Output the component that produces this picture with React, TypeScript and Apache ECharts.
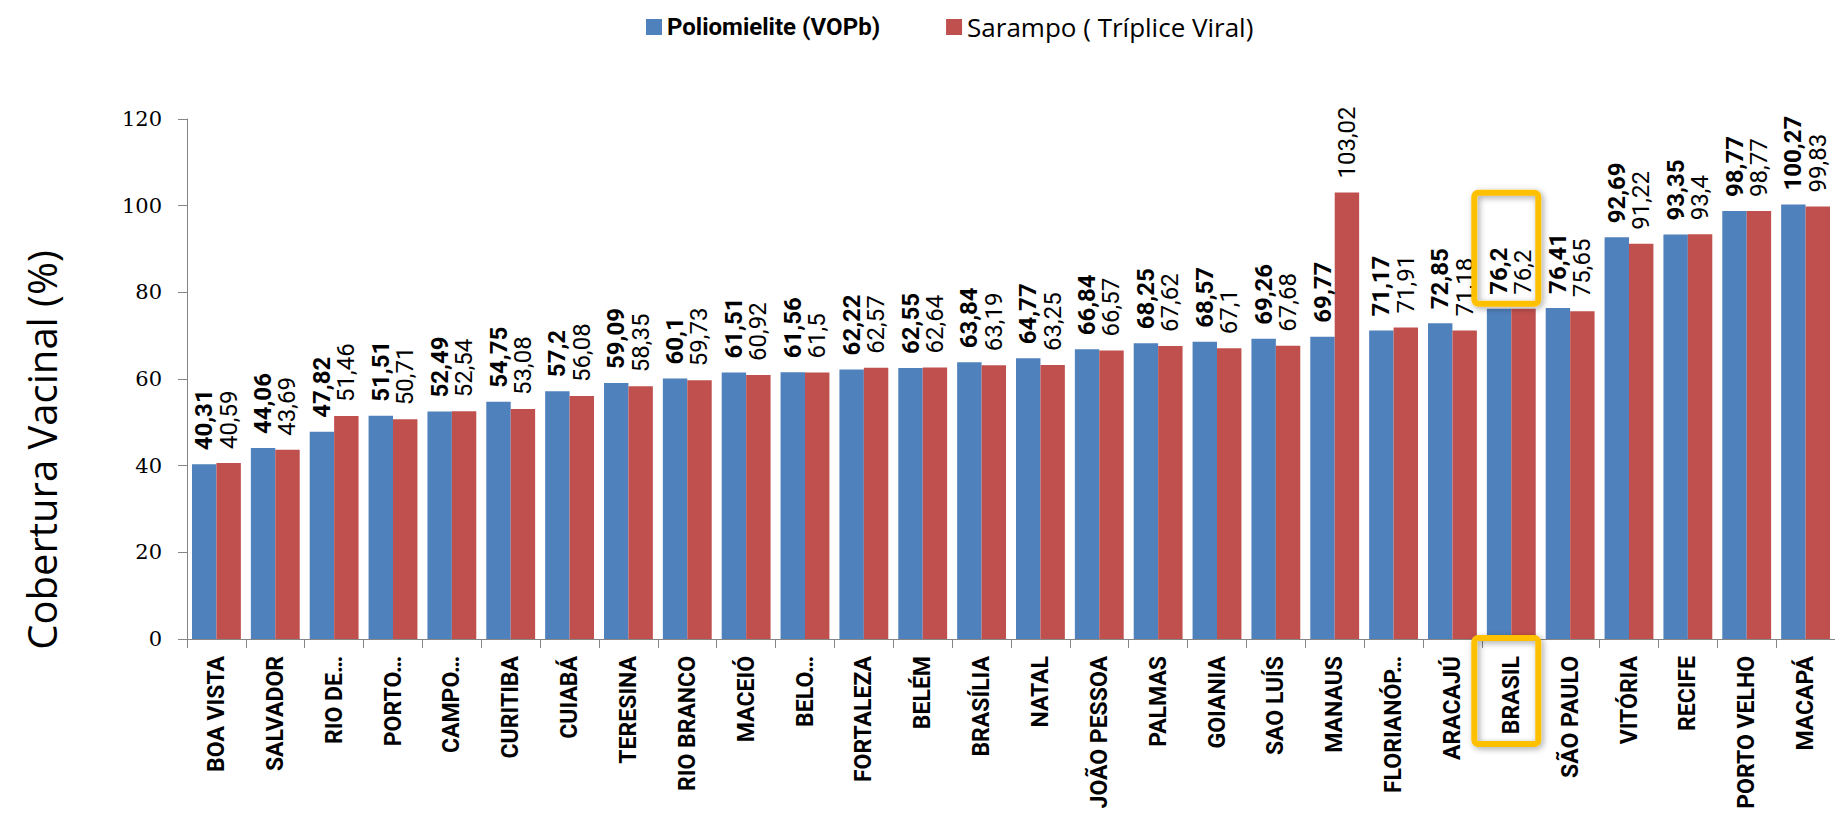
import React, { useEffect, useRef } from "react";
import * as echarts from "echarts";

const categories = [
  "BOA VISTA", "SALVADOR", "RIO DE…", "PORTO…", "CAMPO…", "CURITIBA", "CUIABÁ",
  "TERESINA", "RIO BRANCO", "MACEIÓ", "BELO…", "FORTALEZA", "BELÉM", "BRASÍLIA",
  "NATAL", "JOÃO PESSOA", "PALMAS", "GOIANIA", "SAO LUÍS", "MANAUS", "FLORIANÓP…",
  "ARACAJÚ", "BRASIL", "SÃO PAULO", "VITÓRIA", "RECIFE", "PORTO VELHO", "MACAPÁ",
];

const polio = [
  40.31, 44.06, 47.82, 51.51, 52.49, 54.75, 57.2, 59.09, 60.1, 61.51, 61.56, 62.22,
  62.55, 63.84, 64.77, 66.84, 68.25, 68.57, 69.26, 69.77, 71.17, 72.85, 76.2, 76.41,
  92.69, 93.35, 98.77, 100.27,
];

const sarampo = [
  40.59, 43.69, 51.46, 50.71, 52.54, 53.08, 56.08, 58.35, 59.73, 60.92, 61.5, 62.57,
  62.64, 63.19, 63.25, 66.57, 67.62, 67.1, 67.68, 103.02, 71.91, 71.18, 76.2, 75.65,
  91.22, 93.4, 98.77, 99.83,
];

const seriesNames = ["Poliomielite (VOPb)", "Sarampo ( Tríplice Viral)"];
const highlightCategory = "BRASIL";
const yTitle = "Cobertura Vacinal (%)";

const fmt = (p: any) => String(p.value).replace(".", ",");

export default function App() {
  const ref = useRef<HTMLDivElement>(null);
  useEffect(() => {
    document.body.style.margin = "0";
    const chart = echarts.init(ref.current!, undefined, { renderer: "svg" });
    const labelBase = {
      show: true,
      position: "top" as const,
      distance: 14,
      rotate: 90,
      align: "left" as const,
      verticalAlign: "middle" as const,
      formatter: fmt,
      fontFamily: "Roboto",
      fontSize: 24,
      color: "#000",
    };
    chart.setOption({
      animation: false,
      grid: { left: 187, right: -5, top: 119, bottom: 177 },
      legend: {
        left: 641,
        top: 9,
        itemWidth: 16,
        itemHeight: 16,
        itemGap: 66,
        icon: "rect",
        textStyle: { fontFamily: "Roboto", fontSize: 24, color: "#000" },
        data: [
          { name: seriesNames[0], textStyle: { fontWeight: "bold" } },
          { name: seriesNames[1], textStyle: { fontFamily: "Open Sans", fontSize: 26 } },
        ],
      },
      xAxis: {
        type: "category",
        data: categories,
        axisLine: { show: true, lineStyle: { color: "#868686", width: 1 } },
        axisTick: { show: true, length: 9, lineStyle: { color: "#868686" } },
        axisLabel: {
          rotate: 90,
          interval: 0,
          margin: 17,
          fontFamily: "Roboto",
          fontWeight: "bold",
          fontSize: 23,
          color: "#000",
        },
      },
      yAxis: {
        type: "value",
        min: 0,
        max: 120,
        interval: 20,
        axisLine: { show: true, lineStyle: { color: "#868686", width: 1 } },
        axisTick: { show: true, length: 9, lineStyle: { color: "#868686" } },
        splitLine: { show: false },
        axisLabel: { margin: 25, fontFamily: "DejaVu Serif", fontSize: 21, color: "#000" },
      },
      series: [
        {
          type: "bar",
          name: seriesNames[0],
          data: polio,
          barGap: "0%",
          barCategoryGap: "17%",
          itemStyle: { color: "#4F81BD" },
          label: { ...labelBase, fontWeight: "bold" },
        },
        {
          type: "bar",
          name: seriesNames[1],
          data: sarampo,
          barGap: "0%",
          barCategoryGap: "17%",
          itemStyle: { color: "#C0504D" },
          label: { ...labelBase },
        },
      ],
    });

    const idx = categories.indexOf(highlightCategory);
    const cx = chart.convertToPixel({ xAxisIndex: 0 }, highlightCategory) as number;
    const yTop = chart.convertToPixel({ yAxisIndex: 0 }, Math.max(polio[idx], sarampo[idx])) as number;
    const y0 = chart.convertToPixel({ yAxisIndex: 0 }, 0) as number;
    const boxStyle = {
      fill: "none",
      stroke: "#FFC000",
      lineWidth: 6,
      shadowBlur: 6,
      shadowColor: "rgba(0,0,0,0.35)",
      shadowOffsetX: 2,
      shadowOffsetY: 2,
    };
    chart.setOption({
      graphic: [
        {
          type: "text",
          x: 41,
          y: 450,
          rotation: Math.PI / 2,
          style: {
            text: yTitle,
            fontFamily: "Open Sans",
            fontSize: 40,
            fill: "#000",
            align: "center",
            verticalAlign: "middle",
          },
        },
        {
          type: "rect",
          shape: { x: cx - 37, y: yTop - 116, width: 64, height: 111, r: 4 },
          style: boxStyle,
          z: 100,
        },
        {
          type: "rect",
          shape: { x: cx - 37, y: y0 - 1, width: 64, height: 106, r: 4 },
          style: boxStyle,
          z: 100,
        },
      ],
    });
    return () => chart.dispose();
  }, []);
  return (
    <div
      ref={ref}
      style={{ position: "absolute", left: 0, top: 0, width: 1835, height: 816 }}
    />
  );
}
